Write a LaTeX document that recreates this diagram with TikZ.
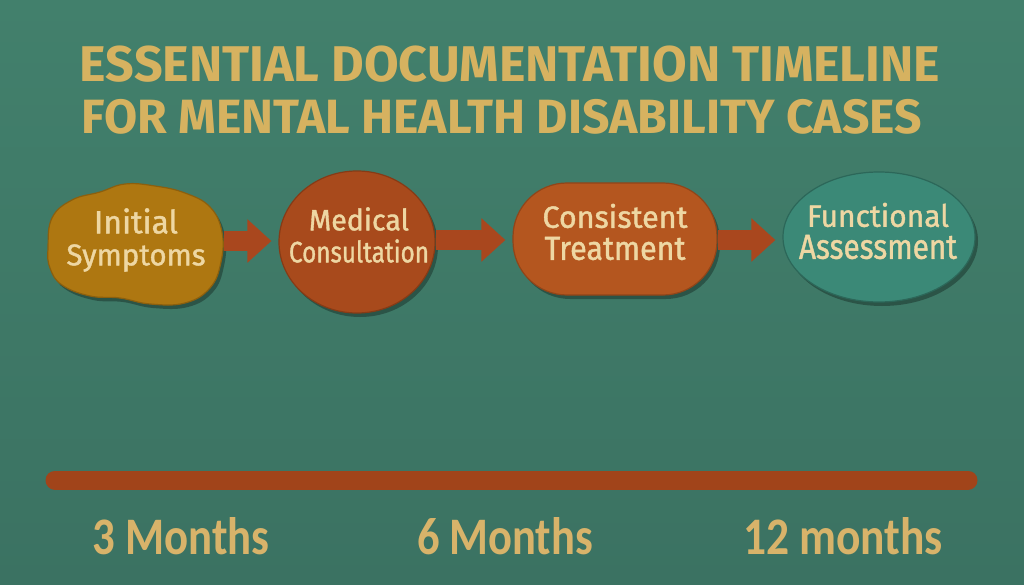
\documentclass[tikz,border=0pt]{standalone}
\usepackage{fontspec}
\setmainfont{Fira Sans}
\newfontfamily\labfont{Carlito}
\newfontfamily\nodefont[FakeBold=1.3]{Fira Sans}
\usetikzlibrary{shapes.geometric,arrows.meta,shadows}
\definecolor{bgtop}{HTML}{42806C}
\definecolor{bgbot}{HTML}{3B7262}
\definecolor{titlecol}{HTML}{D6B260}
\definecolor{nodetext}{HTML}{EED7A3}
\definecolor{mustard}{HTML}{AE7711}
\definecolor{rust}{HTML}{A84A1C}
\definecolor{orangebrown}{HTML}{B4561F}
\definecolor{tealnode}{HTML}{3B8977}
\definecolor{arrowcol}{HTML}{A9471E}
\definecolor{barcol}{HTML}{A1441A}
\definecolor{labcol}{HTML}{D8B36A}
\tikzset{
  shad/.style={drop shadow={shadow xshift=3pt, shadow yshift=-4pt, opacity=.3, fill=black}},
  shapebox/.style={shad, inner sep=0pt, line width=1.2pt},
  steptext/.style={align=center, inner sep=0pt, text=nodetext, font=\nodefont\fontsize{24}{32}\selectfont},
  flowarrow/.style={draw=arrowcol, line width=19pt, -{Triangle[length=24pt 0 0, width=42pt 0]}, shorten >=7pt},
  timelbl/.style={text=labcol, font=\labfont\bfseries\fontsize{44}{50}\selectfont, inner sep=0pt},
  titlestyle/.style={text=titlecol, font=\bfseries, inner sep=0pt}
}
\begin{document}
\begin{tikzpicture}[x=1pt,y=-1pt]
\useasboundingbox (0,0) rectangle (1024,585);
\shade[top color=bgtop, bottom color=bgbot] (0,0) rectangle (1024,585);

% title
\node[titlestyle] (t1) at (510,64) {\resizebox{860pt}{!}{ESSENTIAL DOCUMENTATION TIMELINE}};
\node[titlestyle] (t2) at (502,117) {\resizebox{840pt}{!}{FOR MENTAL HEALTH DISABILITY CASES}};

% cloud
\fill[mustard, draw=mustard!80!black, line width=1.2pt, shad] plot[smooth cycle, tension=0.7] coordinates {
 (48,248) (52,218) (72,200) (100,192) (125,184) (155,186) (185,193) (210,207) (222,232)
 (221,262) (210,288) (185,303) (150,304) (120,298) (90,296) (62,285) (50,268)};
\node[steptext, minimum width=175pt, minimum height=120pt] (cloud) at (136,240)
  {\resizebox{84pt}{25pt}{Initial}\\\resizebox{139pt}{21pt}{Symptoms}};

\node[shapebox, ellipse, fill=rust, draw=rust!80!black, minimum width=156pt, minimum height=142pt] (consult) at (357,242) {};
\node[steptext] (consultT) at (359,235) {\resizebox{100pt}{23pt}{Medical}\\\resizebox{140pt}{23pt}{Consultation}};

\node[shapebox, rectangle, rounded corners=54pt, fill=orangebrown, draw=orangebrown!80!black, minimum width=204pt, minimum height=112pt] (treat) at (615,239) {};
\node[steptext] (treatT) at (615,232) {\resizebox{145pt}{24pt}{Consistent}\\\resizebox{141pt}{23pt}{Treatment}};

\node[shapebox, ellipse, fill=tealnode, draw=tealnode!75!black, minimum width=192pt, minimum height=130pt] (assess) at (879,237) {};
\node[steptext] (assessT) at (878,231) {\resizebox{142pt}{24pt}{Functional}\\\resizebox{158pt}{24pt}{Assessment}};

\draw[flowarrow] (cloud.east |- 0,241) -- (consult.west |- 0,241);
\draw[flowarrow] (consult.east |- 0,240) -- (treat.west |- 0,240);
\draw[flowarrow] (treat.east |- 0,240) -- (assess.west |- 0,240);

% timeline bar
\coordinate (barL) at (55,480);
\coordinate (barR) at (968,480);
\draw[barcol, line width=19pt, line cap=round, shad] (barL) -- (barR);

\node[timelbl] (m3) at (181,536) {\resizebox{177pt}{37pt}{3 Months}};
\node[timelbl] (m6) at (505,536) {\resizebox{176pt}{37pt}{6 Months}};
\node[timelbl] (m12) at (843,536) {\resizebox{200pt}{37pt}{12 months}};
\end{tikzpicture}
\end{document}
